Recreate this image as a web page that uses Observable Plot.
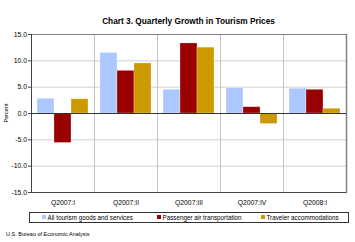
<!DOCTYPE html>
<html>
<head>
<meta charset="utf-8">
<script src="https://cdn.jsdelivr.net/npm/d3@7"></script>
<script src="https://cdn.jsdelivr.net/npm/@observablehq/plot@0.6"></script>
<style>
  html, body { margin: 0; padding: 0; background: #fff; }
  #wrap { position: relative; width: 355px; height: 242px; font-family: "Liberation Sans", Arial, sans-serif; overflow: hidden; }
  #title { position: absolute; left: 30px; width: 317px; top: 16px; text-align: center; font-weight: bold; font-size: 8.3px; color: #000; }
  #chart { position: absolute; left: 0; top: 30px; }
  #ylab { position: absolute; left: 6px; top: 113px; transform: translate(-50%, -50%) rotate(-90deg); font-size: 5.5px; color: #000; white-space: nowrap; }
  #legend { position: absolute; left: 29px; top: 212px; width: 318px; height: 9px; border: 1px solid #333; font-size: 6.3px; color: #000; }
  .item { position: absolute; top: 0px; line-height: 9px; white-space: nowrap; }
  .sw { display: inline-block; width: 4px; height: 4px; margin-right: 1.5px; vertical-align: 1px; }
  #source { position: absolute; left: 6px; top: 231px; font-size: 5.5px; color: #000; }
</style>
</head>
<body>
<div id="wrap">
  <div id="title">Chart 3. Quarterly Growth in Tourism Prices</div>
  <div id="chart"></div>
  <div id="ylab">Percent</div>
  <div id="legend"></div>
  <div id="source">U.S. Bureau of Economic Analysis</div>
</div>
<script>
const quarters = ["Q2007:I", "Q2007:II", "Q2007:III", "Q2007:IV", "Q2008:I"];
const seriesNames = ["All tourism goods and services", "Passenger air transportation", "Traveler accommodations"];
const allTourism = [2.8, 11.5, 4.5, 4.8, 4.7];
const passengerAir = [-5.6, 8.1, 13.3, 1.2, 4.5];
const travelerAccommodations = [2.7, 9.5, 12.5, -2.0, 0.9];
const seriesColors = ["#adc8fe", "#990000", "#cc9900"];
const yTicks = [-15, -10, -5, 0, 5, 10, 15];
const legendX = [12, 127, 231];

const seriesValues = [allTourism, passengerAir, travelerAccommodations];
const data = [];
quarters.forEach((q, i) => {
  seriesNames.forEach((s, j) => {
    data.push({quarter: q, series: s, value: seriesValues[j][i]});
  });
});

const chart = Plot.plot({
  width: 355,
  height: 178,
  marginLeft: 30,
  marginRight: 8,
  marginTop: 4,
  marginBottom: 16,
  style: {fontFamily: "Liberation Sans, Arial, sans-serif", fontSize: "6.8px", color: "#000", background: "transparent"},
  fx: {domain: quarters, padding: 0, label: null},
  x: {domain: seriesNames, axis: null, paddingInner: 0, paddingOuter: 0.35},
  y: {domain: [-15, 15], label: null},
  color: {domain: seriesNames, range: seriesColors},
  marks: [
    Plot.gridY(yTicks, {stroke: "#d0d0d0", strokeOpacity: 1}),
    Plot.frame({anchor: "right", stroke: "#c4c4c4"}),
    Plot.frame({anchor: "top", stroke: "#808080"}),
    Plot.frame({anchor: "right", stroke: "#808080", strokeWidth: 1.5, facetAnchor: "right"}),
    Plot.barY(data, {fx: "quarter", x: "series", y: "value", fill: "series", stroke: "white", strokeOpacity: 0.35, strokeWidth: 0.8}),
    Plot.ruleY([0], {stroke: "#333"}),
    Plot.ruleY([-15], {stroke: "#444"}),
    Plot.frame({anchor: "left", stroke: "#444", facetAnchor: "left"}),
    Plot.axisY(yTicks, {tickSize: 3, tickPadding: 1.5, tickFormat: d => d.toFixed(1), label: null, stroke: "#444"}),
    Plot.axisFx({anchor: "bottom", tickSize: 0, tickPadding: 8, label: null})
  ]
});
document.getElementById("chart").appendChild(chart);

const legend = document.getElementById("legend");
seriesNames.forEach((s, j) => {
  const it = document.createElement("div");
  it.className = "item";
  it.style.left = legendX[j] + "px";
  const sw = document.createElement("span");
  sw.className = "sw";
  sw.style.background = seriesColors[j];
  it.appendChild(sw);
  it.appendChild(document.createTextNode(s));
  legend.appendChild(it);
});
</script>
</body>
</html>
